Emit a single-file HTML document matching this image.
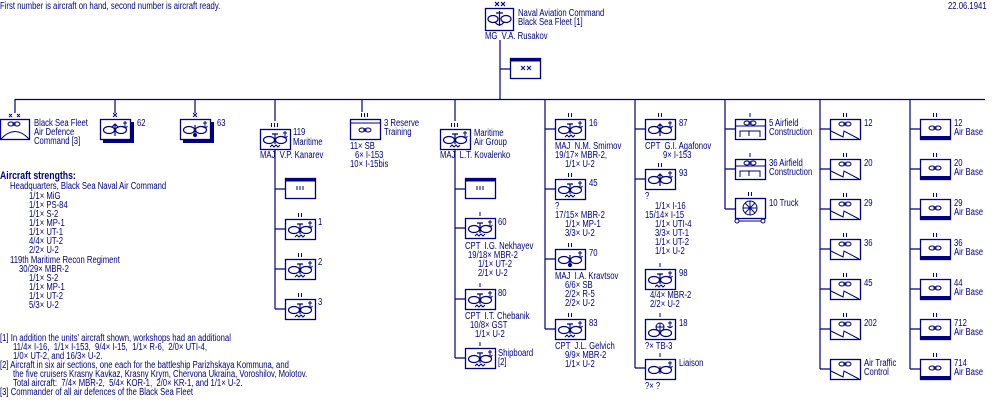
<!DOCTYPE html>
<html><head><meta charset="utf-8">
<style>
html,body{margin:0;padding:0;background:#fff;}
#w{position:relative;width:1000px;height:400px;overflow:hidden;background:#fff;}
svg{position:absolute;left:0;top:0;}
.t{position:absolute;font-family:"Liberation Sans",sans-serif;font-size:10px;line-height:10px;color:#000080;white-space:pre;transform:scaleX(.77);transform-origin:0 0;}
.b{font-weight:bold;font-size:11px;transform:scaleX(.79);}
</style></head><body><div id="w">
<svg width="1000" height="400" viewBox="0 0 1000 400">
<defs>
<g id="pr" fill="none" stroke="#000080" stroke-width="1.2"><ellipse cx="9" cy="11" rx="5.5" ry="3.5"/><ellipse cx="21" cy="11" rx="5.5" ry="3.5"/></g>
<g id="sp" fill="none" stroke="#000080" stroke-width="1"><ellipse cx="12" cy="0" rx="3" ry="2"/><ellipse cx="18" cy="0" rx="3" ry="2"/><path d="M13 0h4"/></g>
<g id="anc" fill="none" stroke="#000080" stroke-width="1"><path d="M25 2v7M23 4h4M22.5 7q2.5 3.5 5 0"/></g>
<g id="wav" fill="none" stroke="#000080" stroke-width="1"><polyline points="10,18 12,16 14,18 16,16 18,18 20,16"/></g>
<rect id="bx" x="0.5" y="0.5" width="30" height="20" fill="#fff" stroke="#000080" stroke-width="1.3"/>
<g id="mar"><use href="#bx"/><use href="#pr"/><path d="M15 5v10M12 5h6" stroke="#000080" stroke-width="1.2"/><use href="#anc"/><use href="#wav"/></g>
<g id="arr"><use href="#bx"/><use href="#pr"/><path d="M15 17V5M12 8l3-3 3 3" fill="none" stroke="#000080" stroke-width="1.2"/><use href="#anc"/></g>
<g id="bom"><use href="#bx"/><use href="#pr"/><path d="M15 6v10" stroke="#000080" stroke-width="1.2"/><circle cx="15" cy="16" r="2" fill="#000080"/><use href="#anc"/></g>
<g id="tb"><use href="#bx"/><use href="#pr" transform="translate(0,3)"/><circle cx="15" cy="8" r="4" fill="none" stroke="#000080"/><path d="M15 4v8M11 8h8" stroke="#000080"/><use href="#anc"/></g>
<g id="lia"><use href="#bx"/><use href="#pr"/><path d="M15 7v8" stroke="#000080"/><use href="#anc"/></g>
<g id="afs"><use href="#bx"/><use href="#sp" transform="translate(0,5)"/><polyline points="1,12 13,18 14,12 29,20" fill="none" stroke="#000080"/></g>
<g id="ab"><use href="#bx"/><rect x="0.5" y="17" width="30" height="3.5" fill="#000080"/><use href="#sp" transform="translate(0,9)"/></g>
<g id="con"><use href="#bx"/><use href="#sp" transform="translate(0,4)"/><path d="M0 7h30M5 18v-6h20v6M14 12v5" fill="none" stroke="#000080"/></g>
<g id="hq"><use href="#bx"/><rect x="0.5" y="0.5" width="30" height="3" fill="#000080"/><path d="M12 8v4M15 8v4M18 8v4" stroke="#000080"/></g>
<g id="e2" stroke="#000080"><path d="M13.5 -6v4M16.5 -6v4"/></g>
<g id="e3" stroke="#000080"><path d="M11.5 -6v4M14.5 -6v4M17.5 -6v4"/></g>
<g id="e1" stroke="#000080"><path d="M15 -6v4"/></g>
<g id="ex" stroke="#000080"><path d="M13 -6l4 4M17 -6l-4 4"/></g>
</defs>
<g stroke="#000080" stroke-width="1.2" fill="none">
<path d="M500 40V99M500 69h10M15 99.5H985M15 99v14M115 99v14M195 99v14M275 99v22M362 99v13M455 99v22M545 99V329M635 99V368M725 99V209M820 99V369M910 99V369"/>
<path d="M275 150V309M275 189h10M275 229h10M275 269h10M275 309h10"/>
<path d="M455 150V358M455 189h10M455 228h10M455 299h10M455 358h10"/>
<path d="M545 129h10M545 189h10M545 259h10M545 329h10"/>
<path d="M635 129h10M635 179h10M635 368h10"/>
<path d="M725 129h10M725 169h10M725 209h10"/>
<path d="M820 129h10M820 169h10M820 209h10M820 249h10M820 289h10M820 329h10M820 369h10"/>
<path d="M910 129h10M910 169h10M910 209h10M910 249h10M910 289h10M910 329h10M910 369h10"/>
</g>
<rect x="485.5" y="8.5" width="28" height="22" fill="#fff" stroke="#000080" stroke-width="1.3"/>
<g fill="none" stroke="#000080" stroke-width="1.2"><ellipse cx="493" cy="19" rx="5" ry="3.5"/><ellipse cx="506" cy="19" rx="5" ry="3.5"/><path d="M499.5 11v15M496 13h7M495 22q4.5 6 9 0"/><path d="M495 2l4 4M499 2l-4 4M501 2l4 4M505 2l-4 4"/></g>
<rect x="510.5" y="58.5" width="30" height="20" fill="#fff" stroke="#000080" stroke-width="1.3"/><rect x="510.5" y="58.5" width="30" height="3" fill="#000080"/>
<g stroke="#000080"><path d="M521 66l4 4M525 66l-4 4M527 66l4 4M531 66l-4 4"/></g>
<rect x="0.5" y="119.5" width="29" height="20" fill="#fff" stroke="#000080" stroke-width="1.3"/>
<use href="#sp" x="-1" y="124"/>
<path d="M1 139Q15 124 29 139" fill="none" stroke="#000080"/>
<g stroke="#000080"><path d="M9 114l3 3M12 114l-3 3M17 114l3 3M20 114l-3 3"/></g>
<rect x="103" y="122" width="31" height="21" fill="#000080"/><use href="#arr" x="100" y="119"/><use href="#ex" x="100" y="119"/>
<rect x="183" y="122" width="31" height="21" fill="#000080"/><use href="#bom" x="180" y="119"/><use href="#ex" x="180" y="119"/>
<use href="#mar" x="260" y="129"/><use href="#e3" x="260" y="129"/>
<use href="#hq" x="285" y="178"/>
<use href="#mar" x="285" y="219"/><use href="#e2" x="285" y="219"/>
<use href="#mar" x="285" y="259"/><use href="#e2" x="285" y="259"/>
<use href="#mar" x="285" y="299"/><use href="#e2" x="285" y="299"/>
<use href="#bx" x="350" y="119"/><path d="M351 123h29" stroke="#000080"/><use href="#sp" x="350" y="130"/><use href="#e3" x="350" y="119"/>
<use href="#mar" x="440" y="129"/><use href="#e3" x="440" y="129"/>
<use href="#hq" x="465" y="178"/>
<use href="#mar" x="465" y="218"/><use href="#e1" x="465" y="218"/>
<use href="#mar" x="465" y="289"/><use href="#e1" x="465" y="289"/>
<use href="#mar" x="465" y="348"/><use href="#e1" x="465" y="348"/>
<use href="#mar" x="555" y="119"/><use href="#e2" x="555" y="119"/>
<use href="#mar" x="555" y="179"/><use href="#e2" x="555" y="179"/>
<use href="#bom" x="555" y="249"/><use href="#e2" x="555" y="249"/>
<use href="#mar" x="555" y="319"/><use href="#e2" x="555" y="319"/>
<use href="#arr" x="645" y="119"/><use href="#e2" x="645" y="119"/>
<use href="#arr" x="645" y="169"/><use href="#e2" x="645" y="169"/>
<use href="#mar" x="645" y="269"/><use href="#e1" x="645" y="269"/>
<use href="#tb" x="645" y="319"/><use href="#e1" x="645" y="319"/>
<use href="#lia" x="645" y="359"/><use href="#e1" x="645" y="359"/>
<use href="#con" x="735" y="119"/><use href="#e1" x="735" y="119"/>
<use href="#con" x="735" y="159"/><use href="#e1" x="735" y="159"/>
<use href="#bx" x="735" y="198"/><use href="#e2" x="735" y="198"/>
<g fill="none" stroke="#000080"><circle cx="750" cy="208" r="7"/><path d="M743 208h14M750 201v14M745 203l10 10M755 203l-10 10"/><circle cx="737" cy="221" r="2"/><circle cx="763" cy="221" r="2"/><path d="M739 221h22"/></g>
<use href="#afs" x="830" y="119"/><use href="#e2" x="830" y="119"/>
<use href="#afs" x="830" y="159"/><use href="#e2" x="830" y="159"/>
<use href="#afs" x="830" y="199"/><use href="#e2" x="830" y="199"/>
<use href="#afs" x="830" y="239"/><use href="#e2" x="830" y="239"/>
<use href="#afs" x="830" y="279"/><use href="#e2" x="830" y="279"/>
<use href="#afs" x="830" y="319"/><use href="#e2" x="830" y="319"/>
<use href="#afs" x="830" y="359"/>
<use href="#ab" x="920" y="119"/><use href="#e2" x="920" y="119"/>
<use href="#ab" x="920" y="159"/><use href="#e2" x="920" y="159"/>
<use href="#ab" x="920" y="199"/><use href="#e2" x="920" y="199"/>
<use href="#ab" x="920" y="239"/><use href="#e2" x="920" y="239"/>
<use href="#ab" x="920" y="279"/><use href="#e2" x="920" y="279"/>
<use href="#ab" x="920" y="319"/><use href="#e2" x="920" y="319"/>
<use href="#ab" x="920" y="359"/><use href="#e2" x="920" y="359"/>
</svg>

<div class="t" style="left:0;top:2px">First number is aircraft on hand, second number is aircraft ready.</div>
<div class="t" style="left:948px;top:2px">22.06.1941</div>
<div class="t" style="left:518px;top:9px">Naval Aviation Command</div>
<div class="t" style="left:518px;top:18px">Black Sea Fleet [1]</div>
<div class="t" style="left:485px;top:32px">MG  V.A. Rusakov</div>

<div class="t" style="left:34px;top:119px">Black Sea Fleet</div>
<div class="t" style="left:34px;top:128px">Air Defence</div>
<div class="t" style="left:34px;top:137px">Command [3]</div>
<div class="t" style="left:137px;top:119px">62</div>
<div class="t" style="left:217px;top:119px">63</div>

<div class="t" style="left:293px;top:128px">119</div>
<div class="t" style="left:293px;top:138px">Maritime</div>
<div class="t" style="left:260px;top:151px">MAJ  V.P. Kanarev</div>
<div class="t" style="left:318px;top:218px">1</div>
<div class="t" style="left:318px;top:258px">2</div>
<div class="t" style="left:318px;top:298px">3</div>

<div class="t" style="left:384px;top:119px">3 Reserve</div>
<div class="t" style="left:384px;top:128px">Training</div>
<div class="t" style="left:350px;top:142px">11× SB</div>
<div class="t" style="left:355px;top:151px">6× I-153</div>
<div class="t" style="left:350px;top:160px">10× I-15bis</div>

<div class="t" style="left:474px;top:129px">Maritime</div>
<div class="t" style="left:474px;top:138px">Air Group</div>
<div class="t" style="left:440px;top:151px">MAJ  L.T. Kovalenko</div>
<div class="t" style="left:498px;top:218px">60</div>
<div class="t" style="left:465px;top:242px">CPT  I.G. Nekhayev</div>
<div class="t" style="left:468px;top:251px">19/18× MBR-2</div>
<div class="t" style="left:478px;top:260px">1/1× UT-2</div>
<div class="t" style="left:478px;top:269px">2/1× U-2</div>
<div class="t" style="left:498px;top:289px">80</div>
<div class="t" style="left:465px;top:312px">CPT  I.T. Chebanik</div>
<div class="t" style="left:470px;top:321px">10/8× GST</div>
<div class="t" style="left:475px;top:330px">1/1× U-2</div>
<div class="t" style="left:498px;top:349px">Shipboard</div>
<div class="t" style="left:498px;top:358px">[2]</div>

<div class="t" style="left:589px;top:119px">16</div>
<div class="t" style="left:555px;top:142px">MAJ  N.M. Smirnov</div>
<div class="t" style="left:555px;top:151px">19/17× MBR-2,</div>
<div class="t" style="left:565px;top:160px">1/1× U-2</div>
<div class="t" style="left:589px;top:179px">45</div>
<div class="t" style="left:555px;top:202px">?</div>
<div class="t" style="left:555px;top:211px">17/15× MBR-2</div>
<div class="t" style="left:565px;top:220px">1/1× MP-1</div>
<div class="t" style="left:565px;top:229px">3/3× U-2</div>
<div class="t" style="left:589px;top:249px">70</div>
<div class="t" style="left:555px;top:272px">MAJ  I.A. Kravtsov</div>
<div class="t" style="left:565px;top:281px">6/6× SB</div>
<div class="t" style="left:565px;top:290px">2/2× R-5</div>
<div class="t" style="left:565px;top:299px">2/2× U-2</div>
<div class="t" style="left:589px;top:319px">83</div>
<div class="t" style="left:555px;top:342px">CPT  J.L. Gelvich</div>
<div class="t" style="left:565px;top:351px">9/9× MBR-2</div>
<div class="t" style="left:565px;top:360px">1/1× U-2</div>

<div class="t" style="left:679px;top:119px">87</div>
<div class="t" style="left:645px;top:142px">CPT  G.I. Agafonov</div>
<div class="t" style="left:663px;top:151px">9× I-153</div>
<div class="t" style="left:679px;top:169px">93</div>
<div class="t" style="left:645px;top:192px">?</div>
<div class="t" style="left:655px;top:202px">1/1× I-16</div>
<div class="t" style="left:645px;top:211px">15/14× I-15</div>
<div class="t" style="left:655px;top:220px">1/1× UTI-4</div>
<div class="t" style="left:655px;top:229px">3/3× UT-1</div>
<div class="t" style="left:655px;top:238px">1/1× UT-2</div>
<div class="t" style="left:655px;top:247px">1/1× U-2</div>
<div class="t" style="left:679px;top:269px">98</div>
<div class="t" style="left:650px;top:291px">4/4× MBR-2</div>
<div class="t" style="left:650px;top:300px">2/2× U-2</div>
<div class="t" style="left:679px;top:319px">18</div>
<div class="t" style="left:645px;top:342px">?× TB-3</div>
<div class="t" style="left:679px;top:359px">Liaison</div>
<div class="t" style="left:645px;top:382px">?× ?</div>

<div class="t" style="left:769px;top:119px">5 Airfield</div>
<div class="t" style="left:769px;top:128px">Construction</div>
<div class="t" style="left:769px;top:159px">36 Airfield</div>
<div class="t" style="left:769px;top:168px">Construction</div>
<div class="t" style="left:769px;top:199px">10 Truck</div>

<div class="t" style="left:864px;top:119px">12</div>
<div class="t" style="left:864px;top:159px">20</div>
<div class="t" style="left:864px;top:199px">29</div>
<div class="t" style="left:864px;top:239px">36</div>
<div class="t" style="left:864px;top:279px">45</div>
<div class="t" style="left:864px;top:319px">202</div>
<div class="t" style="left:864px;top:359px">Air Traffic</div>
<div class="t" style="left:864px;top:368px">Control</div>

<div class="t" style="left:954px;top:119px">12</div><div class="t" style="left:954px;top:128px">Air Base</div>
<div class="t" style="left:954px;top:159px">20</div><div class="t" style="left:954px;top:168px">Air Base</div>
<div class="t" style="left:954px;top:199px">29</div><div class="t" style="left:954px;top:208px">Air Base</div>
<div class="t" style="left:954px;top:239px">36</div><div class="t" style="left:954px;top:248px">Air Base</div>
<div class="t" style="left:954px;top:279px">44</div><div class="t" style="left:954px;top:288px">Air Base</div>
<div class="t" style="left:954px;top:319px">712</div><div class="t" style="left:954px;top:328px">Air Base</div>
<div class="t" style="left:954px;top:359px">714</div><div class="t" style="left:954px;top:368px">Air Base</div>

<div class="t b" style="left:0;top:171px">Aircraft strengths:</div>
<div class="t" style="left:10px;top:182px">Headquarters, Black Sea Naval Air Command</div>
<div class="t" style="left:29px;top:192px">1/1× MiG</div>
<div class="t" style="left:29px;top:201px">1/1× PS-84</div>
<div class="t" style="left:29px;top:210px">1/1× S-2</div>
<div class="t" style="left:29px;top:219px">1/1× MP-1</div>
<div class="t" style="left:29px;top:228px">1/1× UT-1</div>
<div class="t" style="left:29px;top:237px">4/4× UT-2</div>
<div class="t" style="left:29px;top:246px">2/2× U-2</div>
<div class="t" style="left:10px;top:256px">119th Maritime Recon Regiment</div>
<div class="t" style="left:19px;top:265px">30/29× MBR-2</div>
<div class="t" style="left:29px;top:274px">1/1× S-2</div>
<div class="t" style="left:29px;top:283px">1/1× MP-1</div>
<div class="t" style="left:29px;top:292px">1/1× UT-2</div>
<div class="t" style="left:29px;top:301px">5/3× U-2</div>

<div class="t" style="left:0;top:334px">[1] In addition the units' aircraft shown, workshops had an additional</div>
<div class="t" style="left:13px;top:343px">11/4× I-16,  1/1× I-153,  9/4× I-15,  1/1× R-6,  2/0× UTI-4,</div>
<div class="t" style="left:13px;top:352px">1/0× UT-2, and 16/3× U-2.</div>
<div class="t" style="left:0;top:361px">[2] Aircraft in six air sections, one each for the battleship Parizhskaya Kommuna, and</div>
<div class="t" style="left:13px;top:370px">the five cruisers Krasny Kavkaz, Krasny Krym, Chervona Ukraina, Voroshilov, Molotov.</div>
<div class="t" style="left:13px;top:379px">Total aircraft:  7/4× MBR-2,  5/4× KOR-1,  2/0× KR-1, and 1/1× U-2.</div>
<div class="t" style="left:0;top:388px">[3] Commander of all air defences of the Black Sea Fleet</div>
</div></body></html>
